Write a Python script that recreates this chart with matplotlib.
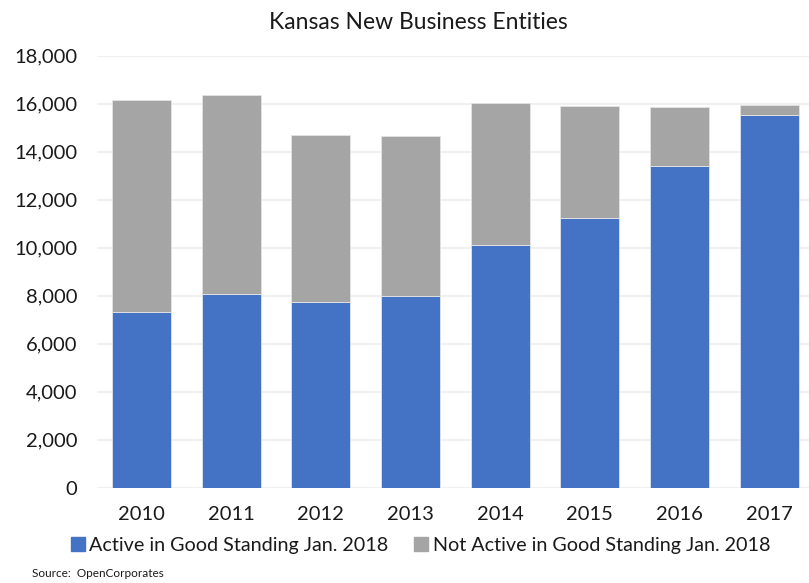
import matplotlib
matplotlib.use('Agg')
import matplotlib.pyplot as plt
from matplotlib.ticker import FuncFormatter
from matplotlib.patches import Patch

years = ['2010', '2011', '2012', '2013', '2014', '2015', '2016', '2017']
active = [7330, 8070, 7720, 7970, 10120, 11250, 13390, 15520]
total = [16140, 16360, 14710, 14650, 16030, 15900, 15850, 15930]
not_active = [t - a for t, a in zip(total, active)]

blue = '#4472C4'
gray = '#A5A5A5'

plt.rcParams['font.family'] = ['Lato', 'DejaVu Sans']

fig = plt.figure(figsize=(8.09, 5.83), dpi=100)
ax = fig.add_axes([0.1195, 0.1635, 0.8866, 0.741])

x = range(len(years))
ax.bar(x, active, width=0.66, color=blue, edgecolor='#dfe6f3', linewidth=0.6, zorder=3)
ax.bar(x, not_active, bottom=active, width=0.66, color=gray, edgecolor='#e4e4e4',
       linewidth=0.6, zorder=3)

ax.set_xlim(-0.5, len(years) - 0.5)
ax.set_ylim(0, 18000)
ax.set_yticks(range(0, 18001, 2000))
ax.yaxis.set_major_formatter(FuncFormatter(lambda v, p: f'{int(v):,}'))
ax.set_xticks(list(x))
ax.set_xticklabels(years)
ax.tick_params(axis='y', length=0, pad=14, labelsize=14.5, colors='#1a1a1a')
ax.tick_params(axis='x', length=0, pad=13, labelsize=14.5, colors='#1a1a1a')
ax.grid(axis='y', color='#eeeeee', linewidth=1.2, zorder=0)
for s in ax.spines.values():
    s.set_visible(False)

fig.text(0.517, 0.962, 'Kansas New Business Entities', ha='center', va='center',
         fontsize=16.5, color='#1a1a1a')

handles = [Patch(color=blue, label='Active in Good Standing Jan. 2018'),
           Patch(color=gray, label='Not Active in Good Standing Jan. 2018')]
fig.legend(handles=handles, loc='center', bbox_to_anchor=(0.52, 0.064), ncol=2,
           frameon=False, fontsize=14.2, handlelength=0.7, handleheight=0.7,
           handletextpad=0.25, columnspacing=1.3, labelcolor='#1a1a1a')

fig.text(0.039, 0.017, 'Source:  OpenCorporates', ha='left', va='center',
         fontsize=8.5, color='#1a1a1a')

fig.savefig('out.png', dpi=100)
